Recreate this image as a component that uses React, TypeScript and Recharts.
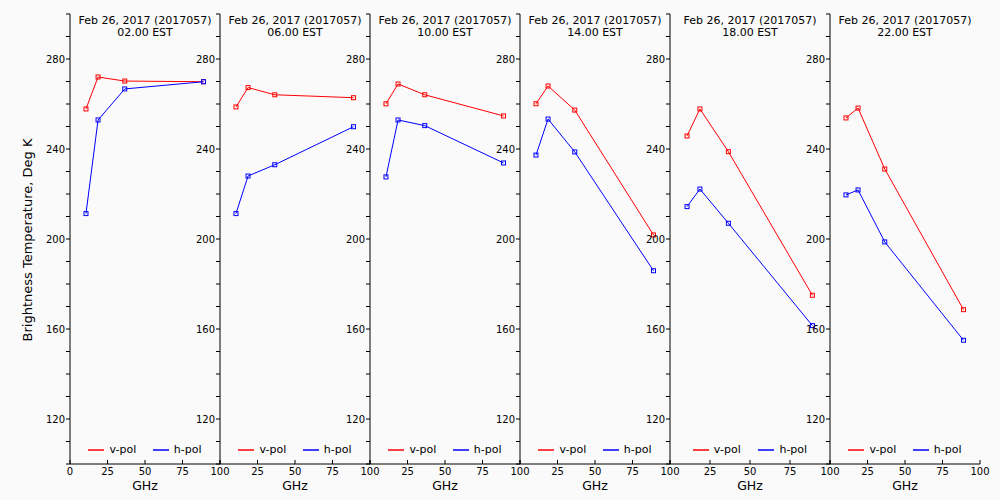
import React from 'react';
import { LineChart, Line, XAxis, YAxis, Legend } from 'recharts';

const freqs = [10.65, 18.7, 36.5, 89];
const dateLabel = 'Feb 26, 2017 (2017057)';
const hours = ['02.00 EST', '06.00 EST', '10.00 EST', '14.00 EST', '18.00 EST', '22.00 EST'];
const seriesNames = ['v-pol', 'h-pol'];

const vPol = [
  [257.8, 272.0, 270.2, 269.9],
  [258.7, 267.3, 264.1, 262.8],
  [260.1, 268.9, 264.1, 254.7],
  [260.1, 268.0, 257.3, 201.8],
  [245.8, 257.8, 238.8, 175.0],
  [253.8, 258.2, 231.1, 168.6],
];

const hPol = [
  [211.3, 252.9, 266.7, 269.9],
  [211.3, 228.0, 233.0, 249.9],
  [227.6, 252.9, 250.4, 233.8],
  [237.3, 253.3, 238.7, 185.9],
  [214.4, 222.2, 207.0, 161.5],
  [219.6, 221.8, 198.7, 155.0],
];

// panel frames (left edge, width) as drawn in the original
const panelLeft = [70, 220, 370, 520, 670, 830];
const panelWidth = [150, 150, 150, 150, 160, 150];

const xTicks = [0, 25, 50, 75, 100];
const yTicks = [100, 110, 120, 130, 140, 150, 160, 170, 180, 190, 200, 210, 220, 230, 240, 250, 260, 270, 280, 290, 300];
const yLabelled = [120, 160, 200, 240, 280];

const FONT = '"DejaVu Sans", sans-serif';
const AXIS_W = 60;
const RIGHT_PAD = 14;
const TOP = 14;
const PLOT_BOTTOM = 464;
const H = 500;

const Square = (props: any) => {
  const { cx, cy, stroke } = props;
  if (cx == null || cy == null) return null;
  return <rect x={cx - 2} y={cy - 2} width={4} height={4} fill="none" stroke={stroke} strokeWidth={1} />;
};

const LegendBox = ({ payload, width }: any) => {
  const items = [...(payload || [])].sort((a: any, b: any) => seriesNames.indexOf(a.value) - seriesNames.indexOf(b.value));
  return (
    <div style={{ display: 'flex', justifyContent: 'center', gap: width * 0.11, width, fontFamily: FONT, fontSize: 11, color: '#000' }}>
      {items.map((p: any) => (
        <div key={p.value} style={{ display: 'flex', alignItems: 'center' }}>
          <svg width={16} height={10} style={{ marginRight: 5 }}>
            <line x1={0} y1={5} x2={16} y2={5} stroke={p.color} strokeWidth={1.5} />
          </svg>
          <span>{p.value}</span>
        </div>
      ))}
    </div>
  );
};

const Panel = ({ idx }: { idx: number }) => {
  const w = panelWidth[idx];
  const data = freqs.map((f, i) => ({ ghz: f, v: vPol[idx][i], h: hPol[idx][i] }));
  const tickStyle = { fontSize: 10, fontFamily: FONT, fill: '#000' };
  return (
    <div style={{ position: 'absolute', left: panelLeft[idx] - AXIS_W, top: 0 }}>
      <LineChart
        width={AXIS_W + w + RIGHT_PAD}
        height={H}
        data={data}
        margin={{ top: TOP, right: RIGHT_PAD, bottom: H - PLOT_BOTTOM - 30, left: 0 }}
      >
        <XAxis
          dataKey="ghz"
          type="number"
          domain={[0, 100]}
          ticks={xTicks}
          interval={0}
          height={30}
          stroke="#000"
          tickSize={-4}
          tickMargin={8}
          tick={tickStyle}
          tickFormatter={(v: number) => (v === 0 && idx > 0 ? '' : String(v))}
          label={{ value: 'GHz', position: 'insideBottom', offset: 4, fontSize: 12.5, fontFamily: FONT, fill: '#000' }}
        />
        <XAxis xAxisId="top" orientation="top" dataKey="ghz" type="number" domain={[0, 100]} ticks={xTicks} height={0} stroke="#000" tickSize={-5} tick={false} />
        <YAxis
          type="number"
          domain={[100, 300]}
          ticks={yTicks}
          interval={0}
          width={AXIS_W}
          stroke="#000"
          tickSize={4}
          tickMargin={1}
          tick={tickStyle}
          tickFormatter={(v: number) => (yLabelled.includes(v) ? String(v) : '')}
        />
        <YAxis yAxisId="right" orientation="right" type="number" domain={[100, 300]} ticks={yTicks} width={0} stroke="#000" tickSize={-4} tick={false} />
        <Legend
          layout="horizontal"
          verticalAlign="middle"
          align="center"
          wrapperStyle={{ left: AXIS_W, top: 443, width: w }}
          content={(props: any) => <LegendBox payload={props.payload} width={w} />}
        />
        <Line name="v-pol" dataKey="v" stroke="#ff0000" strokeWidth={1} dot={<Square />} isAnimationActive={false} />
        <Line name="h-pol" dataKey="h" stroke="#0000ff" strokeWidth={1} dot={<Square />} isAnimationActive={false} />
      </LineChart>
      <div style={{ position: 'absolute', left: AXIS_W, top: 15, width: w, textAlign: 'center', fontFamily: FONT, fontSize: 11, lineHeight: '12px', color: '#000' }}>
        <div>{dateLabel}</div>
        <div>{hours[idx]}</div>
      </div>
    </div>
  );
};

export default function App() {
  return (
    <div style={{ position: 'absolute', left: 0, top: 0, width: 1000, height: H, background: '#fafafa', overflow: 'hidden' }}>
      {hours.map((_, i) => (
        <Panel key={i} idx={i} />
      ))}
      <div
        style={{
          position: 'absolute',
          left: 27,
          top: 240,
          transform: 'translate(-50%, -50%) rotate(-90deg)',
          whiteSpace: 'nowrap',
          fontFamily: FONT,
          fontSize: 13,
          color: '#000',
        }}
      >
        Brightness Temperature, Deg K
      </div>
    </div>
  );
}
